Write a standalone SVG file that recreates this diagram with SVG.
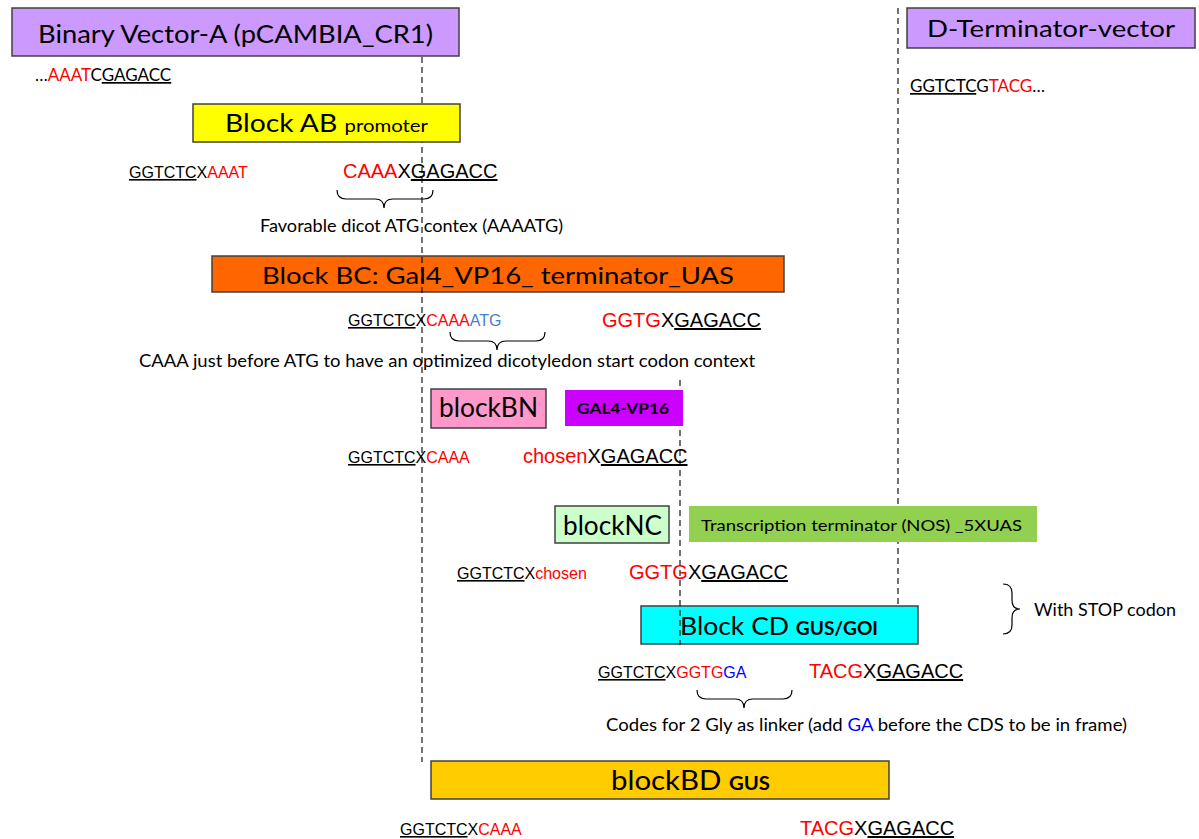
<svg xmlns="http://www.w3.org/2000/svg" width="1199" height="839" viewBox="0 0 1199 839">
<style>
.bg{fill:#ffffff}
.box{stroke:#404040;stroke-width:1.5}
.nb{stroke:none}
.lbl{font-family:Lato,"Open Sans",sans-serif;fill:#000}
.seq{font-family:"Liberation Sans",Arial,sans-serif;fill:#000}
.r{fill:#ff0000}
.b{fill:#0000ff}
.lb{fill:#4a7cc4}
.u{text-decoration:underline}
.bold{font-weight:bold}
.dash{stroke:#000;stroke-width:1.1;stroke-dasharray:6 4;fill:none}
.brace{stroke:#000;stroke-width:1.2;fill:none}
</style>
<rect class="bg" x="0" y="0" width="1199" height="839"/>

<g id="blockBC">
<rect class="box" x="212" y="256" width="572" height="36" fill="#ff6600"/>
<text class="lbl" x="262" y="284" font-size="24" textLength="472" lengthAdjust="spacingAndGlyphs">Block BC: Gal4_VP16_ terminator_UAS</text>
</g>
<g id="blockCD">
<rect class="box" x="641" y="606" width="277" height="38" fill="#00ffff"/>
<text class="lbl" x="680" y="635" font-size="25" textLength="198" lengthAdjust="spacingAndGlyphs">Block CD <tspan class="bold" font-size="18">GUS/GOI</tspan></text>
</g>

<g id="connectors">
<line class="dash" x1="422" y1="57" x2="422" y2="762"/>
<line class="dash" x1="680" y1="380" x2="680" y2="645"/>
<line class="dash" x1="898" y1="8" x2="898" y2="606"/>
<path class="brace" d="M337,190 Q337,199 346,199 L375,199 Q384,199 384,208 Q384,199 393,199 L424,199 Q433,199 433,190"/>
<path class="brace" d="M450,332 Q450,341 459,341 L488,341 Q497,341 497,350 Q497,341 506,341 L536,341 Q545,341 545,332"/>
<path class="brace" d="M697,690 Q697,699 706,699 L735,699 Q744,699 744,708 Q744,699 753,699 L783,699 Q792,699 792,690"/>
<path class="brace" d="M1003,584 Q1012,584 1012,593 L1012,600 Q1012,609 1020,609 Q1012,609 1012,618 L1012,625 Q1012,634 1003,634"/>
</g>

<g id="binaryVectorA">
<rect class="box" x="12" y="8" width="447" height="48" fill="#cc99ff"/>
<text class="lbl" x="38" y="43" font-size="25" textLength="395" lengthAdjust="spacingAndGlyphs">Binary Vector-A (pCAMBIA_CR1)</text>
<text class="lbl" x="35" y="81" font-size="17">…<tspan class="r">AAAT</tspan>C<tspan class="u">GAGACC</tspan></text>
</g>

<g id="dTerminator">
<rect class="box" x="907" y="8" width="288" height="40" fill="#cc99ff"/>
<text class="lbl" x="927" y="37" font-size="23.5" textLength="248" lengthAdjust="spacingAndGlyphs">D-Terminator-vector</text>
<text class="lbl" x="910" y="92" font-size="17"><tspan class="u">GGTCTC</tspan>G<tspan class="r">TACG</tspan>…</text>
</g>

<g id="blockAB">
<rect class="box" x="193" y="104" width="267" height="38" fill="#ffff00"/>
<text class="lbl" x="225" y="132" font-size="25" textLength="203" lengthAdjust="spacingAndGlyphs">Block AB <tspan font-size="18">promoter</tspan></text>
</g>
<g id="seqAB">
<text class="seq" x="129" y="178" font-size="16"><tspan class="u">GGTCTC</tspan>X<tspan class="r">AAAT</tspan></text>
<text class="seq" x="343" y="178" font-size="20"><tspan class="r">CAAA</tspan>X<tspan class="u">GAGACC</tspan></text>
<text class="lbl" x="260" y="232" font-size="16.5" textLength="303" lengthAdjust="spacingAndGlyphs">Favorable dicot ATG contex (AAAATG)</text>
</g>

<g id="seqBC">
<text class="seq" x="348" y="326" font-size="16"><tspan class="u">GGTCTC</tspan>X<tspan class="r">CAAA</tspan><tspan class="lb">ATG</tspan></text>
<text class="seq" x="602" y="327" font-size="20"><tspan class="r">GGTG</tspan>X<tspan class="u">GAGACC</tspan></text>
<text class="lbl" x="139" y="367" font-size="16.5" textLength="616" lengthAdjust="spacingAndGlyphs">CAAA just before ATG to have an optimized dicotyledon start codon context</text>
</g>

<g id="blockBN">
<rect class="box" x="431" y="389" width="115" height="39" fill="#ff99cc"/>
<text class="lbl" x="439" y="417" font-size="26" textLength="99" lengthAdjust="spacingAndGlyphs">blockBN</text>
</g>
<g id="gal4vp16">
<rect class="nb" x="565" y="390" width="118" height="36" fill="#cc00ff"/>
<text class="lbl bold" x="577" y="414" font-size="15.5" textLength="92" lengthAdjust="spacingAndGlyphs">GAL4-VP16</text>
</g>
<g id="seqBN">
<text class="seq" x="348" y="463" font-size="16"><tspan class="u">GGTCTC</tspan>X<tspan class="r">CAAA</tspan></text>
<text class="seq" x="523" y="463" font-size="20"><tspan class="r">chosen</tspan>X<tspan class="u">GAGACC</tspan></text>
</g>

<g id="blockNC">
<rect class="box" x="555" y="506" width="114" height="37" fill="#ccffcc"/>
<text class="lbl" x="563" y="535" font-size="26" textLength="99" lengthAdjust="spacingAndGlyphs">blockNC</text>
</g>
<g id="terminator">
<rect class="nb" x="689" y="506" width="348" height="36" fill="#92d050"/>
<text class="lbl" x="701" y="531" font-size="16" textLength="321" lengthAdjust="spacingAndGlyphs">Transcription terminator (NOS) _5XUAS</text>
</g>
<g id="seqNC">
<text class="seq" x="457" y="579" font-size="16"><tspan class="u">GGTCTC</tspan>X<tspan class="r">chosen</tspan></text>
<text class="seq" x="629" y="579" font-size="20"><tspan class="r">GGTG</tspan>X<tspan class="u">GAGACC</tspan></text>
</g>

<g id="stopNote">
<text class="lbl" x="1034" y="616" font-size="17" textLength="142" lengthAdjust="spacingAndGlyphs">With STOP codon</text>
</g>

<g id="seqCD">
<text class="seq" x="598" y="678" font-size="16"><tspan class="u">GGTCTC</tspan>X<tspan class="r">GGTG</tspan><tspan class="b">GA</tspan></text>
<text class="seq" x="809" y="678" font-size="20"><tspan class="r">TACG</tspan>X<tspan class="u">GAGACC</tspan></text>
<text class="lbl" x="606" y="731" font-size="16.5" textLength="521" lengthAdjust="spacingAndGlyphs">Codes for 2 Gly as linker (add <tspan class="b">GA</tspan> before the CDS to be in frame)</text>
</g>

<g id="blockBD">
<rect class="box" x="431" y="761" width="458" height="38" fill="#ffcc00"/>
<text class="lbl" x="611" y="790" font-size="26" textLength="159" lengthAdjust="spacingAndGlyphs">blockBD   <tspan class="bold" font-size="18">GUS</tspan></text>
</g>
<g id="seqBD">
<text class="seq" x="400" y="835" font-size="16"><tspan class="u">GGTCTC</tspan>X<tspan class="r">CAAA</tspan></text>
<text class="seq" x="800" y="835" font-size="20"><tspan class="r">TACG</tspan>X<tspan class="u">GAGACC</tspan></text>
</g>
</svg>
